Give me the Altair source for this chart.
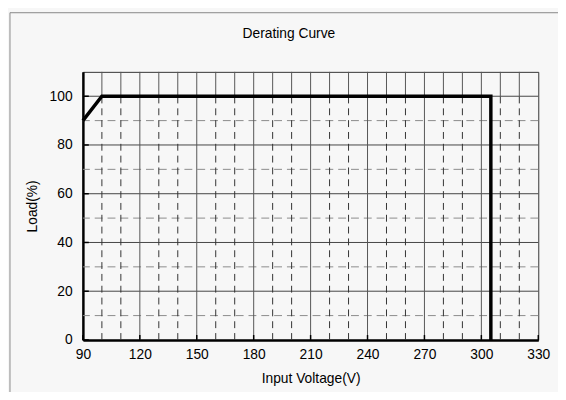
import altair as alt
import pandas as pd

# Curve data
voltage = [90, 100, 305, 305]
load = [90, 100, 100, 0]

# Tick values
x_ticks = [90, 120, 150, 180, 210, 240, 270, 300, 330]
y_ticks = [0, 20, 40, 60, 80, 100]
x_minor = [100, 110, 130, 140, 160, 170, 190, 200, 220, 230, 250, 260, 280, 290, 310, 320]
y_minor = [10, 30, 50, 70, 90]

FONT = "Liberation Sans"
W, H = 462, 272
PL, PT = 76, 62
PR, PB = 558 - PL - W, 50

curve = pd.DataFrame({"v": voltage, "l": load})
xs = alt.Scale(domain=[90, 330], nice=False, zero=False)
ys = alt.Scale(domain=[0, 110], nice=False)

base = alt.Chart(curve)

hgrid_solid = alt.Chart(pd.DataFrame({"y": y_ticks[1:]})).mark_rule(
    color="#444", strokeWidth=1).encode(y=alt.Y("y:Q", scale=ys))
hgrid_dash = alt.Chart(pd.DataFrame({"y": y_minor})).mark_rule(
    color="#8a8a8a", strokeWidth=1, strokeDash=[8, 5]).encode(y=alt.Y("y:Q", scale=ys))
vgrid_solid = alt.Chart(pd.DataFrame({"x": x_ticks[1:-1]})).mark_rule(
    color="#555", strokeWidth=1).encode(x=alt.X("x:Q", scale=xs))
vminor = pd.DataFrame({"x": x_minor, "y0": [0] * len(x_minor),
                       "y1": [100] * len(x_minor), "y2": [110] * len(x_minor)})
vgrid_dash = alt.Chart(vminor).mark_rule(
    color="#333", strokeWidth=1, strokeDash=[7, 5]).encode(
    x=alt.X("x:Q", scale=xs), y=alt.Y("y0:Q", scale=ys), y2="y1:Q")
vgrid_top = alt.Chart(vminor).mark_rule(
    color="#555", strokeWidth=1).encode(
    x=alt.X("x:Q", scale=xs), y=alt.Y("y1:Q", scale=ys), y2="y2:Q")

xtick_marks = alt.Chart(pd.DataFrame({"x": x_ticks})).mark_rule(
    color="black", strokeWidth=1.5).encode(
    x=alt.X("x:Q", scale=xs), y=alt.value(H), y2=alt.value(H - 5))
ytick_marks = alt.Chart(pd.DataFrame({"y": y_ticks})).mark_rule(
    color="black", strokeWidth=1.5).encode(
    y=alt.Y("y:Q", scale=ys), x=alt.value(0), x2=alt.value(6))

frame = alt.Chart(pd.DataFrame({"a": [0]})).mark_rect(
    fill=None, stroke="#888", strokeWidth=1).encode(
    x=alt.value(-(PL - 2)), x2=alt.value(W + PR + 30), y=alt.value(-(PT - 2)), y2=alt.value(H + PB + 30))

line = base.mark_line(color="black", strokeWidth=3.5, strokeJoin="miter", strokeCap="butt").encode(
    x=alt.X("v:Q", scale=xs, title="Input Voltage(V)",
            axis=alt.Axis(values=x_ticks, grid=False, tickSize=0, labelPadding=8,
                          labelFlush=False, titlePadding=10)),
    y=alt.Y("l:Q", scale=ys, title="Load(%)",
            axis=alt.Axis(values=y_ticks, grid=False, tickSize=0, labelPadding=11,
                          titlePadding=10)),
    order="idx:O",
).transform_window(idx="row_number()")

chart = alt.layer(
    frame, hgrid_dash, hgrid_solid, vgrid_dash, vgrid_top, vgrid_solid,
    xtick_marks, ytick_marks, line
).properties(
    width=W, height=H,
    title=alt.TitleParams("Derating Curve", fontSize=14, font=FONT, fontWeight="normal",
                          anchor="middle", frame="group", dx=-22, offset=0, dy=43,
                          baseline="bottom", color="black"),
    autosize=alt.AutoSizeParams(type="none"),
    padding={"left": PL, "top": PT, "right": PR, "bottom": PB},
    background="#f7f7f7",
).configure_view(
    stroke="#333", strokeWidth=1
).configure_axis(
    domainColor="black", domainWidth=2.5, labelFont=FONT, titleFont=FONT,
    labelFontSize=14, titleFontSize=14, labelColor="black", titleColor="black",
    titleFontWeight="normal",
)

chart.save("out.html", embed_options={"renderer": "svg", "actions": False})
